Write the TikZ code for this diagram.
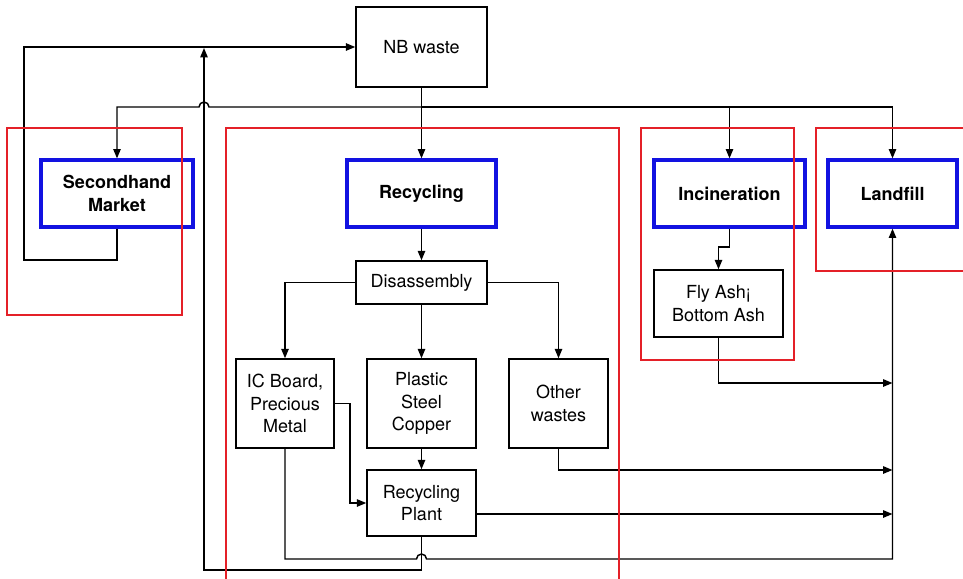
\documentclass[tikz,border=0pt]{standalone}
\usepackage{fontspec}
\setmainfont{TeX Gyre Heros}
\usetikzlibrary{arrows.meta, positioning}
\definecolor{frameRed}{RGB}{228, 32, 40}
\definecolor{stageBlue}{RGB}{18, 18, 225}

\begin{document}
\begin{tikzpicture}[
    x=0.75pt, y=-0.75pt,
    every node/.style={font=\fontsize{13.5}{17}\selectfont},
    box/.style={rectangle, draw=black, line width=1.1pt, align=center, inner sep=2pt},
    stage/.style={rectangle, draw=stageBlue, line width=2.4pt, align=center, font=\fontsize{13.5}{17}\selectfont\bfseries},
    region/.style={draw=frameRed, line width=1.1pt},
    arrow/.style={-{Triangle[length=7pt,width=5.5pt]}, line width=1.1pt},
    link/.style={line width=1.1pt}
]
\useasboundingbox (0,0) rectangle (963,578);

% Source
\node[box, minimum width=98.25pt, minimum height=60pt] (nbwaste) at (421.5,47) {NB waste};

% Treatment stages
\node[stage, minimum width=114pt, minimum height=50.25pt] (second) at (117,193.5) {Secondhand\\Market};
\node[stage, minimum width=111.75pt, minimum height=50.25pt] (recyc) at (421.5,193.5) {Recycling};
\node[stage, minimum width=113.25pt, minimum height=50.25pt] (incin) at (729.5,193.5) {Incineration};
\node[stage, minimum width=96.75pt, minimum height=50.25pt] (landfill) at (892.5,193.5) {Landfill};

% Recycling chain
\node[box, minimum width=98.25pt, minimum height=32.25pt] (disas) at (421.5,282.5) {Disassembly};
\node[box, minimum width=73.5pt, minimum height=66.75pt] (icboard) at (285,403.5) {IC Board,\\Precious\\Metal};
\node[box, minimum width=81.75pt, minimum height=66.75pt] (plastic) at (421.5,403.5) {Plastic\\Steel\\Copper};
\node[box, minimum width=74.25pt, minimum height=66.75pt] (other) at (558.5,403.5) {Other\\wastes};
\node[box, minimum width=81.75pt, minimum height=49.5pt] (plant) at (421.5,503) {Recycling\\Plant};

% Incineration residue
\node[box, minimum width=96.75pt, minimum height=50.25pt] (flyash) at (718.5,303.5) {Fly Ash¡\\Bottom Ash};

% Distribution from NB waste
\coordinate (split) at (421.5,107);
\draw[arrow] (nbwaste.south) -- (recyc.north);
\draw[arrow] (split) -- (209,107) arc[start angle=0, end angle=180, radius=3.75pt] -- (117,107) -- (second.north);
\draw[arrow] (split) -| (incin.north);
\draw[arrow] (split) -| (landfill.north);

% Back to NB waste
\draw[arrow] (second.south) -- (117,260) -- (24,260) |- (nbwaste.west);
\draw[arrow] (plant.south) -- (421.5,570) -| (204,48);

% Recycling arrows
\draw[arrow] (recyc.south) -- (disas.north);
\draw[arrow] (disas.west) -| (icboard.north);
\draw[arrow] (disas.south) -- (plastic.north);
\draw[arrow] (disas.east) -| (other.north);
\draw[arrow] (plastic.south) -- (plant.north);
\draw[arrow] (icboard.east) -- (350,403.5) |- (plant.west);

% To landfill
\draw[arrow] (icboard.south) -- (285,559) -- (416.5,559) arc[start angle=180, end angle=0, radius=3.75pt] -- (892.5,559) -- (landfill.south);
\draw[arrow] (plant.east |- 0,514) -- (892.5,514);
\draw[arrow] (other.south) |- (892.5,470);
\draw[arrow] (incin.south) -- (729.5,247) -| (flyash.north);
\draw[arrow] (flyash.south) |- (892.5,383);

% Regions
\draw[region] (7,128) rectangle (182,315);
\draw[region] (226,128) rectangle (619,582);
\draw[region] (641,128) rectangle (794,360);
\draw[region] (816,128) rectangle (970,271);

\end{tikzpicture}
\end{document}
